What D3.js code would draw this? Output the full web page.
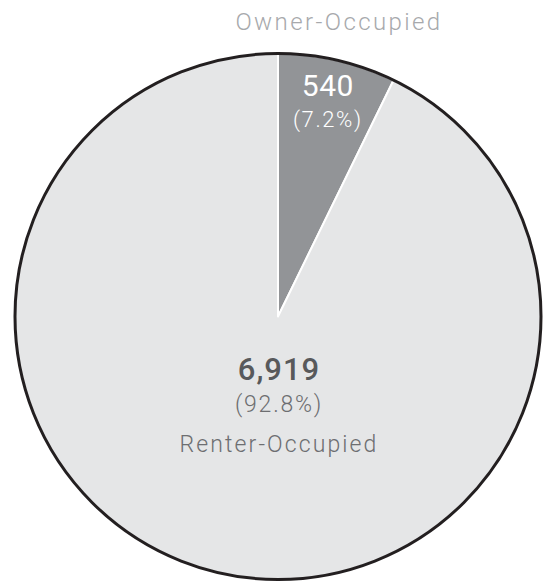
<!DOCTYPE html>
<html>
<head>
<meta charset="utf-8">
<script src="https://cdn.jsdelivr.net/npm/d3@7"></script>
<style>
  html, body { margin: 0; padding: 0; background: #fff; }
  svg { display: block; font-family: Roboto, "DejaVu Sans", sans-serif; }
</style>
</head>
<body>
<svg id="chart" width="546" height="582"></svg>
<script>
// Housing tenure: units by occupancy type
const categories = ["Owner-Occupied", "Renter-Occupied"];
const values = [540, 6919];
const percents = ["7.2%", "92.8%"];
const colors = ["#929497", "#e5e6e7"];

const svg = d3.select("#chart");
const cx = 278, cy = 316.5, radius = 263;

const pie = d3.pie().sort(null).value(d => d)(values);
const arc = d3.arc().innerRadius(0).outerRadius(radius);
const labelArc = d3.arc().innerRadius(221).outerRadius(221);

const g = svg.append("g").attr("transform", `translate(${cx},${cy})`);

g.selectAll("path.slice")
  .data(pie)
  .join("path")
  .attr("class", "slice")
  .attr("d", arc)
  .attr("fill", (d, i) => colors[i])
  .attr("stroke", "#fff")
  .attr("stroke-width", 2)
  .attr("stroke-linejoin", "round");

// dark outer rim
g.append("circle")
  .attr("r", radius)
  .attr("fill", "none")
  .attr("stroke", "#231f20")
  .attr("stroke-width", 3);

const fmt = d3.format(",");

// Owner-occupied: category above the pie, value inside its slice
svg.append("text")
  .attr("x", cx + 61).attr("y", 30)
  .attr("text-anchor", "middle")
  .attr("fill", "#a7a9ac")
  .attr("font-size", 24)
  .attr("font-weight", 300)
  .attr("letter-spacing", 2.4)
  .text(categories[0]);

const [ox, oy] = labelArc.centroid(pie[0]);
g.append("text")
  .attr("x", ox).attr("y", 96 - cy)
  .attr("text-anchor", "middle")
  .attr("fill", "#fff")
  .attr("font-size", 30)
  .attr("font-weight", 400)
  .attr("letter-spacing", 0.5)
  .text(fmt(values[0]));
g.append("text")
  .attr("x", ox).attr("y", 127 - cy)
  .attr("text-anchor", "middle")
  .attr("fill", "#fff")
  .attr("font-size", 22)
  .attr("font-weight", 300)
  .attr("letter-spacing", 1.6)
  .text(`(${percents[0]})`);

// Renter-occupied: all labels inside, below the centre
g.append("text")
  .attr("x", 1).attr("y", 380 - cy)
  .attr("text-anchor", "middle")
  .attr("fill", "#58595b")
  .attr("font-size", 31)
  .attr("font-weight", 500)
  .attr("letter-spacing", 1)
  .text(fmt(values[1]));
g.append("text")
  .attr("x", 1).attr("y", 412 - cy)
  .attr("text-anchor", "middle")
  .attr("fill", "#6d6e71")
  .attr("font-size", 23)
  .attr("font-weight", 300)
  .attr("letter-spacing", 1.8)
  .text(`(${percents[1]})`);
g.append("text")
  .attr("x", 1).attr("y", 452 - cy)
  .attr("text-anchor", "middle")
  .attr("fill", "#6d6e71")
  .attr("font-size", 23)
  .attr("font-weight", 300)
  .attr("letter-spacing", 2.1)
  .text(categories[1]);
</script>
</body>
</html>
